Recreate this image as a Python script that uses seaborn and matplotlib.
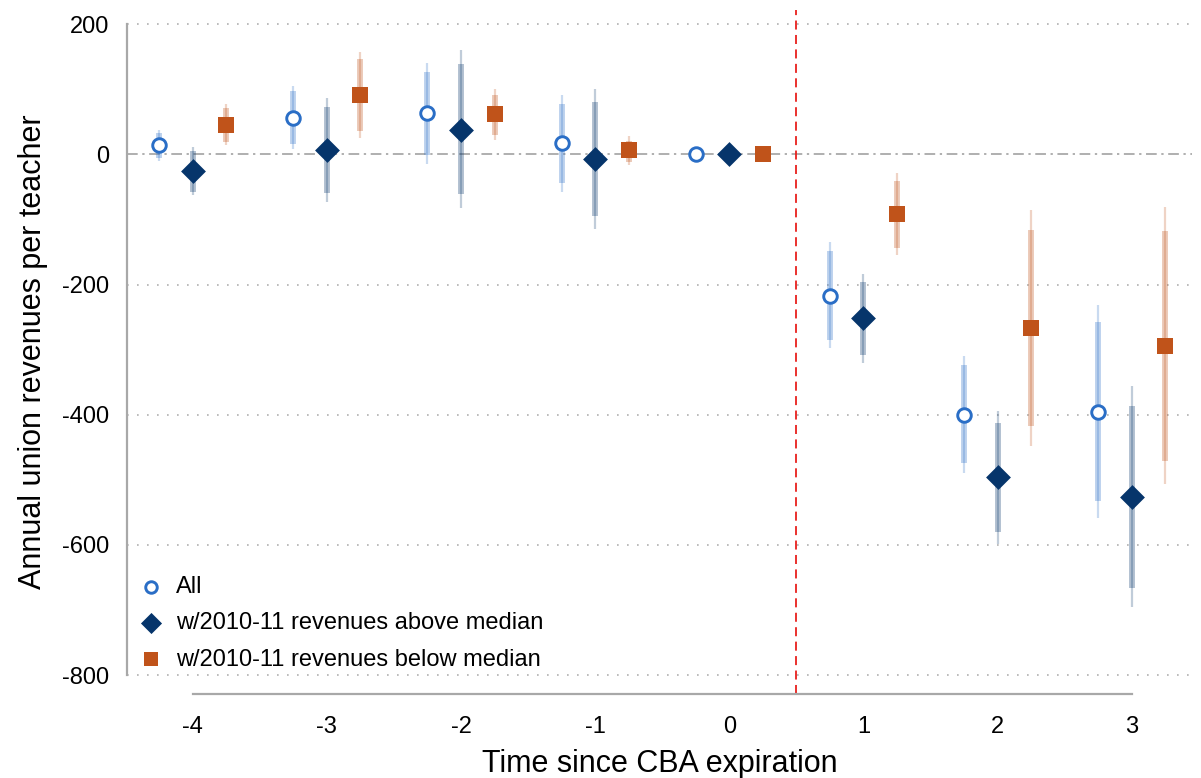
import numpy as np
import pandas as pd
import matplotlib
matplotlib.use("Agg")
import matplotlib.pyplot as plt
import seaborn as sns

# ---- data ----
periods = [-4, -3, -2, -1, 0, 1, 2, 3]
groups = ["All", "w/2010-11 revenues above median", "w/2010-11 revenues below median"]
offsets = [-0.25, 0.0, 0.25]

all_est = [14, 56, 63, 17, 0, -218, -400, -395]
all_lo90 = [-5, 16, -1, -44, 0, -285, -474, -532]
all_hi90 = [33, 97, 127, 78, 0, -149, -324, -258]
all_lo95 = [-10, 8, -15, -57, 0, -298, -490, -558]
all_hi95 = [38, 105, 141, 91, 0, -135, -309, -231]

above_est = [-26, 7, 38, -7, 0, -252, -496, -526]
above_lo90 = [-57, -59, -60, -95, 0, -308, -580, -666]
above_hi90 = [5, 73, 139, 81, 0, -196, -413, -387]
above_lo95 = [-63, -73, -82, -114, 0, -320, -598, -696]
above_hi95 = [12, 87, 160, 101, 0, -184, -394, -356]

below_est = [46, 91, 62, 7, 0, -92, -267, -295]
below_lo90 = [19, 36, 30, -11, 0, -144, -417, -471]
below_hi90 = [72, 146, 92, 21, 0, -41, -116, -118]
below_lo95 = [14, 25, 23, -16, 0, -155, -448, -507]
below_hi95 = [78, 158, 100, 28, 0, -28, -86, -81]

yticks = [200, 0, -200, -400, -600, -800]
xticks = [-4, -3, -2, -1, 0, 1, 2, 3]

colors = ["#2a6ec6", "#06356b", "#c0531a"]
markers = ["o", "D", "s"]

sns.set_style("white")
plt.rcParams["font.family"] = ["Liberation Sans", "DejaVu Sans"]
plt.rcParams["text.color"] = "black"
plt.rcParams["axes.labelcolor"] = "black"

fig = plt.figure(figsize=(12.01, 7.78), dpi=100)
ax = fig.add_axes([127 / 1201, (778 - 694) / 778, (1192 - 127) / 1201, (694 - 10) / 778])

ests = [all_est, above_est, below_est]
lo90s = [all_lo90, above_lo90, below_lo90]
hi90s = [all_hi90, above_hi90, below_hi90]
lo95s = [all_lo95, above_lo95, below_lo95]
hi95s = [all_hi95, above_hi95, below_hi95]

rows = []
for g, off, e in zip(groups, offsets, ests):
    for p, v in zip(periods, e):
        rows.append({"x": p + off, "y": v, "group": g})
df = pd.DataFrame(rows)

# gridlines and reference lines
for yt in yticks:
    if yt != 0:
        ax.axhline(yt, color="#b0b0b0", lw=1.2, ls=(0, (1, 5)), zorder=0)
ax.axhline(0, color="#9a9a9a", lw=1.1, ls=(0, (7, 3, 1.5, 3)), zorder=0)
ax.axvline(0.5, color="#e8201c", lw=1.3, ls=(0, (5, 3)), zorder=1)

# confidence bars
for off, c, lo9, hi9, lo5, hi5 in zip(offsets, colors, lo90s, hi90s, lo95s, hi95s):
    xs = np.array(periods) + off
    ax.vlines(xs, lo5, hi5, color=c, alpha=0.25, lw=1.6, zorder=2)
    ax.vlines(xs, lo9, hi9, color=c, alpha=0.3, lw=4.3, zorder=2)

# points
for g, c, m in zip(groups, colors, markers):
    sub = df[df["group"] == g]
    if m == "o":
        sns.scatterplot(data=sub, x="x", y="y", ax=ax, marker="o", s=95,
                        facecolor="white", edgecolor=c, linewidth=2.1, zorder=4, label=g)
    elif m == "D":
        sns.scatterplot(data=sub, x="x", y="y", ax=ax, marker="D", s=160,
                        color=c, edgecolor=c, linewidth=0, zorder=4, label=g)
    else:
        sns.scatterplot(data=sub, x="x", y="y", ax=ax, marker="s", s=145,
                        color=c, edgecolor=c, linewidth=0, zorder=4, label=g)

ax.set_xlim(-4.49, 3.45)
ax.set_ylim(-829, 222)
ax.set_xticks(xticks)
ax.set_xticklabels([str(t) for t in xticks])
ax.set_yticks(yticks)
ax.set_yticklabels([str(t) for t in yticks])

for s in ["top", "right"]:
    ax.spines[s].set_visible(False)
for s in ["left", "bottom"]:
    ax.spines[s].set_color("#a8a8a8")
    ax.spines[s].set_linewidth(1.6)
ax.spines["left"].set_bounds(-800, 200)
ax.spines["bottom"].set_bounds(-4, 3)
ax.tick_params(axis="both", direction="out", length=8, width=1.4, color="#a8a8a8",
               labelsize=17, labelcolor="black", pad=5)
ax.tick_params(axis="x", pad=8)

ax.set_xlabel("Time since CBA expiration", fontsize=22, labelpad=8, color="black")
ax.set_ylabel("Annual union revenues per teacher", fontsize=22, labelpad=10, color="black")

leg = ax.legend(loc="lower left", bbox_to_anchor=(-0.006, 0.01), frameon=False,
                fontsize=17, handletextpad=0.45, labelspacing=0.6, borderaxespad=0.3,
                handlelength=1.2, markerscale=0.85)
for t in leg.get_texts():
    t.set_color("black")

fig.savefig("out.png", dpi=100)
